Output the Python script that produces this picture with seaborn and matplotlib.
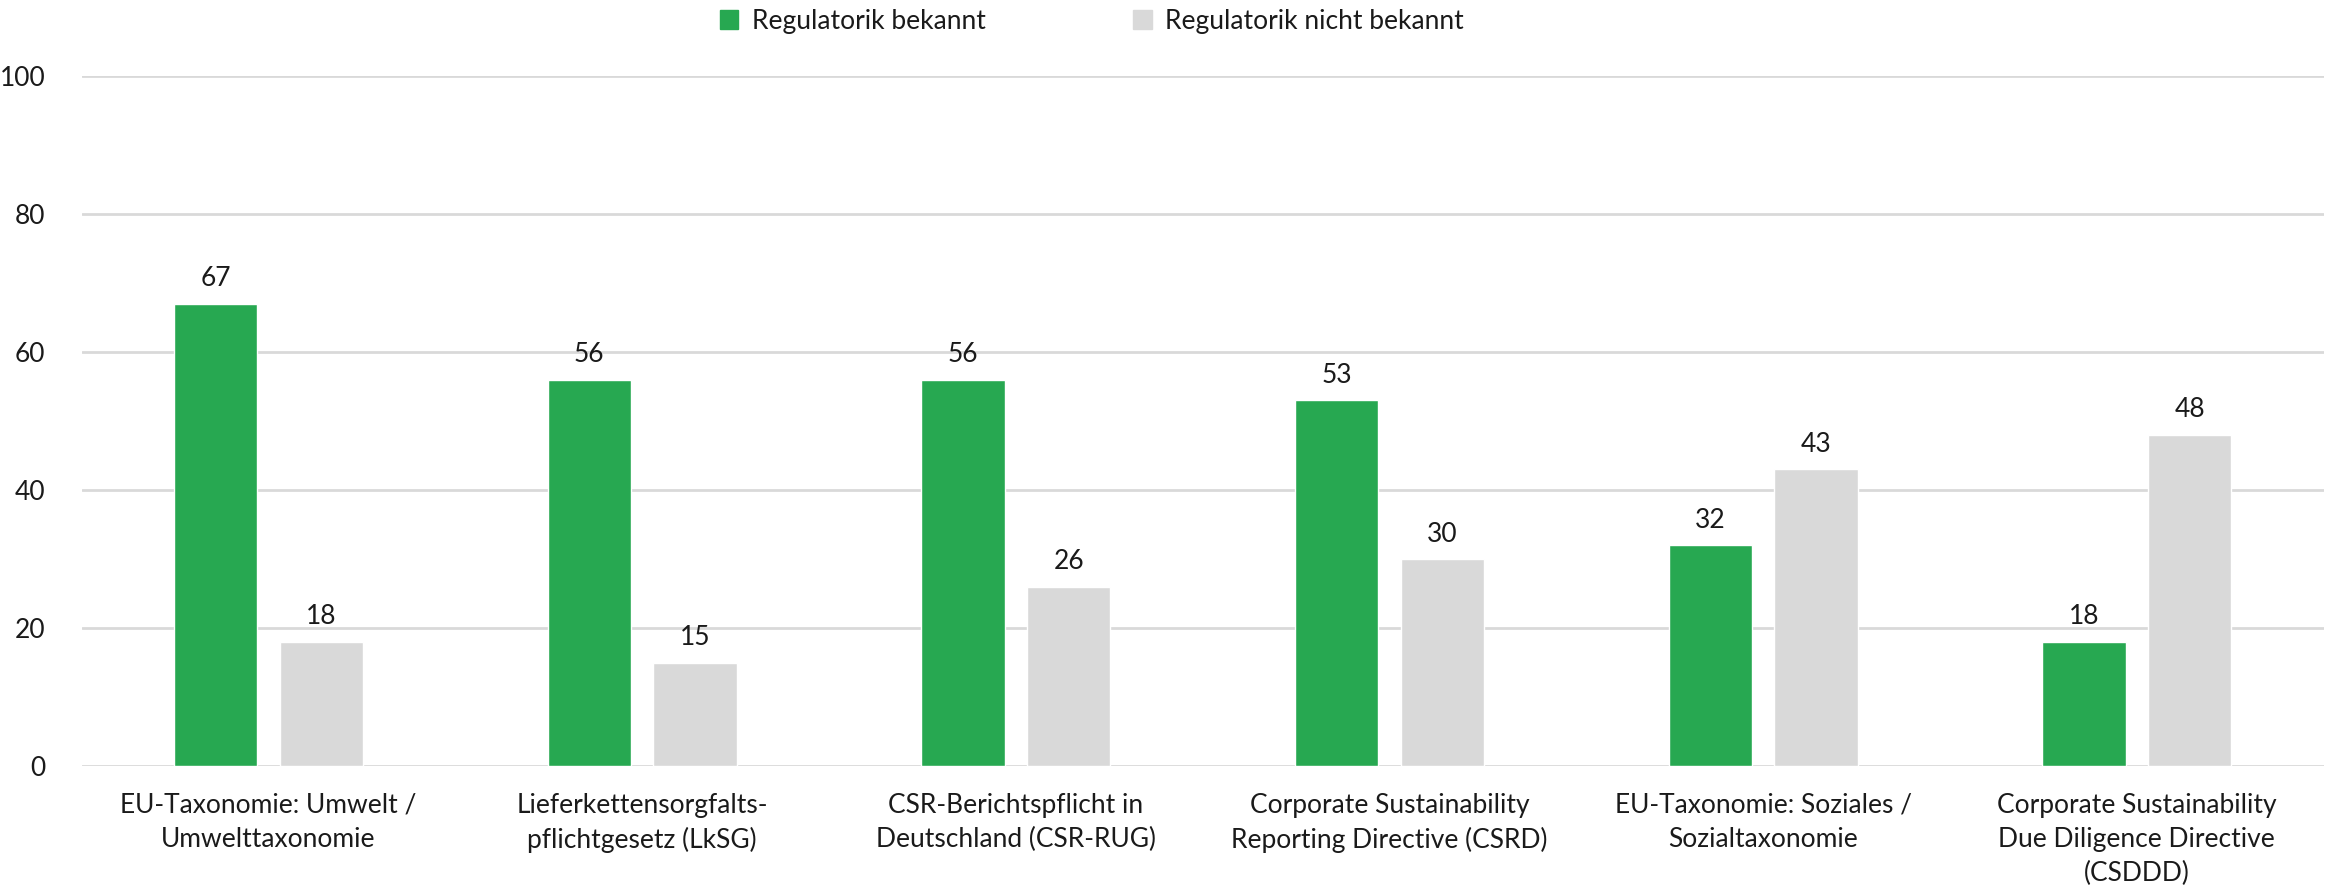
import numpy as np
import pandas as pd
import matplotlib
matplotlib.use("Agg")
import matplotlib.pyplot as plt
import seaborn as sns

categories = [
    "EU-Taxonomie: Umwelt /\nUmwelttaxonomie",
    "Lieferkettensorgfalts-\npflichtgesetz (LkSG)",
    "CSR-Berichtspflicht in\nDeutschland (CSR-RUG)",
    "Corporate Sustainability\nReporting Directive (CSRD)",
    "EU-Taxonomie: Soziales /\nSozialtaxonomie",
    "Corporate Sustainability\nDue Diligence Directive\n(CSDDD)",
]
bekannt = [67, 56, 56, 53, 32, 18]
nicht_bekannt = [18, 15, 26, 30, 43, 48]
series = ["Regulatorik bekannt", "Regulatorik nicht bekannt"]
colors = ["#27a851", "#d9d9d9"]
y_ticks = [0, 20, 40, 60, 80, 100]

df = pd.DataFrame({
    "Kategorie": categories * 2,
    "Serie": [series[0]] * len(categories) + [series[1]] * len(categories),
    "Wert": bekannt + nicht_bekannt,
})

sns.set_theme(style="white")
plt.rcParams["font.family"] = ["Lato", "DejaVu Sans"]
text_color = "#1a1a1a"

fig = plt.figure(figsize=(23.33, 8.9), dpi=100)
ax = fig.add_axes([0.035, 0.139, 0.961, 0.776])

sns.barplot(data=df, x="Kategorie", y="Wert", hue="Serie", hue_order=series,
            palette=colors, width=0.566, gap=0.21, saturation=1,
            ax=ax, legend=False)

for cont in ax.containers:
    ax.bar_label(cont, padding=9, fontsize=19, color=text_color)

ax.set_ylim(0, 100)
ax.set_yticks(y_ticks)
ax.set_xlim(-0.5, len(categories) - 0.5)
ax.yaxis.grid(True, color="#d9d9d9", linewidth=2)
ax.set_axisbelow(True)
for s in ["top", "right", "left", "bottom"]:
    ax.spines[s].set_visible(False)
ax.tick_params(axis="both", length=0, labelsize=19, colors=text_color)
ax.tick_params(axis="y", pad=26)
ax.tick_params(axis="x", pad=19)
for lab in ax.get_xticklabels():
    lab.set_linespacing(1.45)
ax.set_xlabel("")
ax.set_ylabel("")

handles = [plt.Rectangle((0, 0), 1, 1, color=c) for c in colors]
fig.legend(handles, series, loc="center", bbox_to_anchor=(0.468, 0.976), ncol=2,
           frameon=False, fontsize=19, handlelength=0.7, handleheight=0.7,
           handletextpad=0.5, columnspacing=5.6, labelcolor=text_color)

fig.savefig("out.png", dpi=100)
